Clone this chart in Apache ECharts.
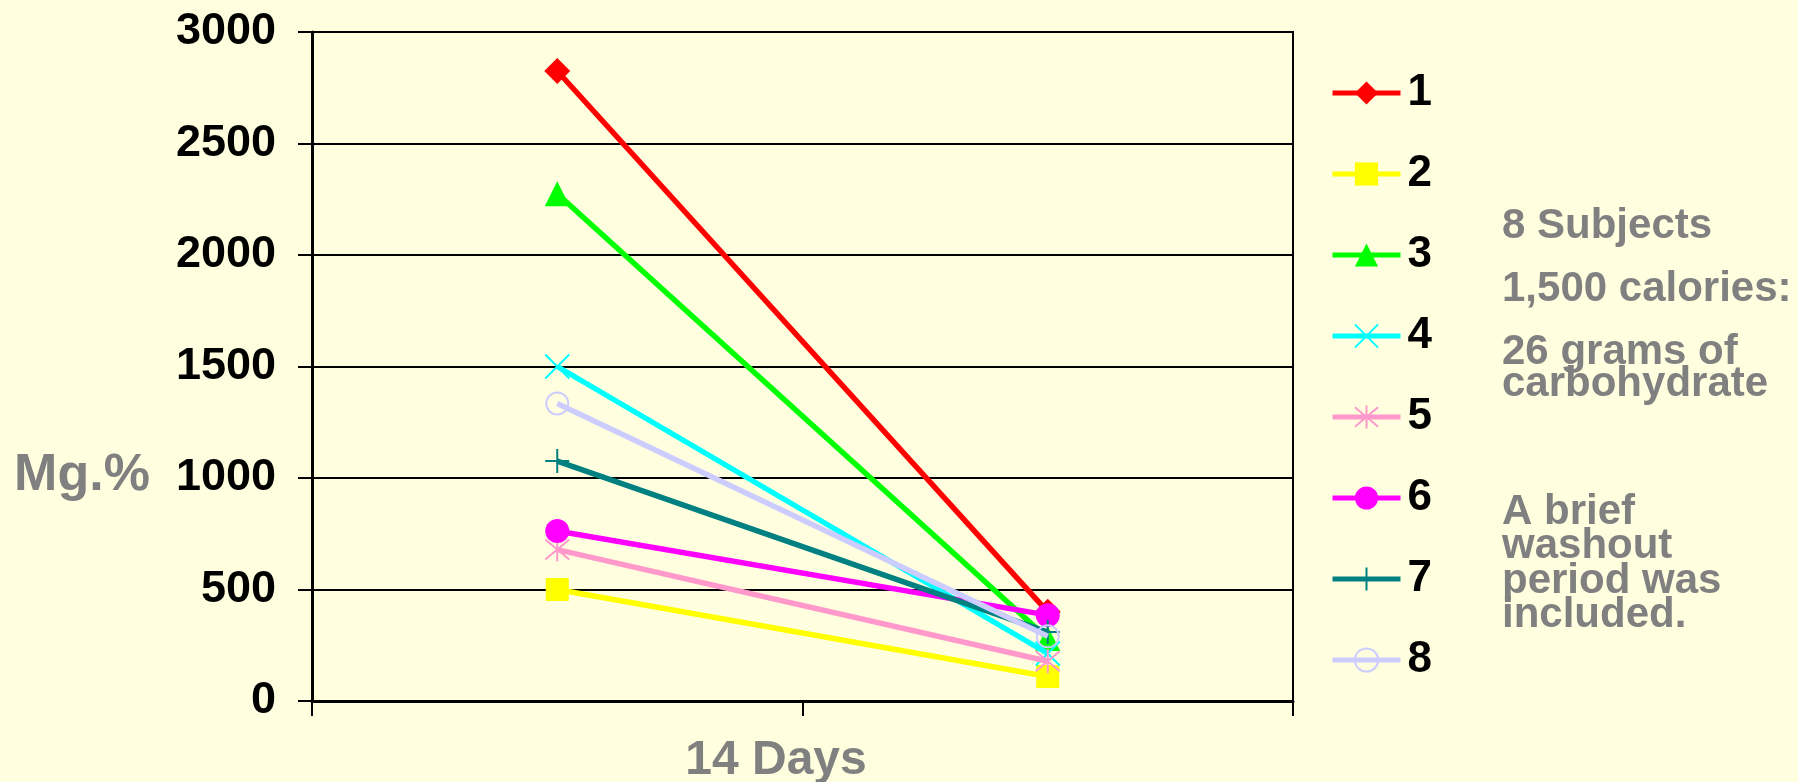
<!DOCTYPE html>
<html>
<head>
<meta charset="utf-8">
<title>Mg.% over 14 days</title>
<script src="https://cdn.jsdelivr.net/npm/echarts@6/dist/echarts.min.js"></script>
<style>
  html, body { margin: 0; padding: 0; background: #FFFFE0; }
  #chart { width: 1798px; height: 782px; }
</style>
</head>
<body>
<div id="chart"></div>
<script>
// Two measurement points per subject (start, after 14 days)
const categories = ['Start', '14 Days'];
const subjectNames = ['1', '2', '3', '4', '5', '6', '7', '8'];
const subject1 = [2825, 400];
const subject2 = [500, 110];
const subject3 = [2275, 280];
const subject4 = [1500, 213];
const subject5 = [679, 178];
const subject6 = [762, 385];
const subject7 = [1076, 309];
const subject8 = [1334, 290];
const yTicks = [0, 500, 1000, 1500, 2000, 2500, 3000];
const notes = ['8 Subjects', '1,500 calories:', '26 grams of\ncarbohydrate', 'A brief\nwashout\nperiod was\nincluded.'];

const seriesValues = [subject1, subject2, subject3, subject4, subject5, subject6, subject7, subject8];
const colors = ['#FF0000', '#FFFF00', '#00FF00', '#00FFFF', '#FF99CC', '#FF00FF', '#008080', '#CCCCFF'];

// marker shapes: filled shapes use fill, stroked shapes use an outline only
const markers = [
  { symbol: 'diamond', size: 26, stroke: false },
  { symbol: 'rect', size: 23, stroke: false },
  { symbol: 'triangle', size: 25, stroke: false },
  { symbol: 'path://M0,0L10,10M10,0L0,10', size: 24, stroke: true },
  { symbol: 'path://M0,0L10,10M10,0L0,10M5,-1L5,11', size: 24, stroke: true },
  { symbol: 'circle', size: 24, stroke: false },
  { symbol: 'path://M5,0L5,10M0,5L10,5', size: 24, stroke: true },
  { symbol: 'circle', size: 22, stroke: true }
];

const FONT = '"Liberation Sans", Arial, sans-serif';

const series = seriesValues.map((vals, i) => {
  const m = markers[i];
  return {
    name: subjectNames[i],
    type: 'line',
    data: vals,
    color: colors[i],
    symbol: m.symbol,
    symbolSize: m.size,
    showAllSymbol: true,
    lineStyle: { color: colors[i], width: 5.5 },
    itemStyle: m.stroke
      ? { color: 'rgba(0,0,0,0)', borderColor: colors[i], borderWidth: 2 }
      : { color: colors[i], borderWidth: 0 },
    emphasis: { disabled: true },
    animation: false,
    z: 2 + i
  };
});

const chart = echarts.init(document.getElementById('chart'), null, { renderer: 'canvas' });
chart.setOption({
  backgroundColor: '#FFFFE0',
  animation: false,
  grid: {
    left: 312, right: 505, top: 32, bottom: 81,
    show: true, borderColor: '#000', borderWidth: 2, backgroundColor: 'transparent'
  },
  xAxis: {
    type: 'category',
    data: categories,
    boundaryGap: true,
    axisLine: { lineStyle: { color: '#000', width: 3 } },
    axisTick: { show: true, length: 15, inside: false, lineStyle: { color: '#000', width: 2 } },
    axisLabel: { show: false },
    splitLine: { show: false }
  },
  yAxis: {
    type: 'value',
    min: yTicks[0],
    max: yTicks[yTicks.length - 1],
    interval: yTicks[1] - yTicks[0],
    axisLine: { show: true, lineStyle: { color: '#000', width: 3 } },
    axisTick: { show: true, length: 14, inside: false, lineStyle: { color: '#000', width: 2 } },
    axisLabel: {
      margin: 36, color: '#000', fontFamily: FONT, fontWeight: 'bold', fontSize: 45,
      formatter: (v) => String(v)
    },
    splitLine: { show: true, lineStyle: { color: '#000', width: 2 } }
  },
  legend: {
    orient: 'vertical',
    left: 1325,
    top: 66,
    itemWidth: 68,
    itemHeight: 29,
    itemGap: 37,
    selectedMode: false,
    data: subjectNames,
    lineStyle: { width: 5 },
    textStyle: {
      fontFamily: FONT, fontWeight: 'bold', fontSize: 44, color: '#000',
      lineHeight: 44, padding: [0, 0, 0, 2]
    }
  },
  graphic: [
    {
      type: 'text', x: 82, y: 476, silent: true,
      style: { text: 'Mg.%', font: 'bold 52px ' + FONT, fill: '#808080', align: 'center', verticalAlign: 'middle' }
    },
    {
      type: 'text', x: 776, y: 761, silent: true,
      style: { text: '14 Days', font: 'bold 48px ' + FONT, fill: '#808080', align: 'center', verticalAlign: 'middle' }
    },
    {
      type: 'text', x: 1502, y: 226, silent: true,
      style: { text: notes[0], font: 'bold 42px ' + FONT, fill: '#808080', align: 'left', verticalAlign: 'middle' }
    },
    {
      type: 'text', x: 1502, y: 289, silent: true,
      style: { text: notes[1], font: 'bold 42px ' + FONT, fill: '#808080', align: 'left', verticalAlign: 'middle' }
    },
    {
      type: 'text', x: 1502, y: 336, silent: true,
      style: { text: notes[2], font: 'bold 42px ' + FONT, lineHeight: 32, fill: '#808080', align: 'left', verticalAlign: 'top' }
    },
    {
      type: 'text', x: 1502, y: 495, silent: true,
      style: { text: notes[3], font: 'bold 42px ' + FONT, lineHeight: 34.5, fill: '#808080', align: 'left', verticalAlign: 'top' }
    }
  ],
  series: series
});
</script>
</body>
</html>
